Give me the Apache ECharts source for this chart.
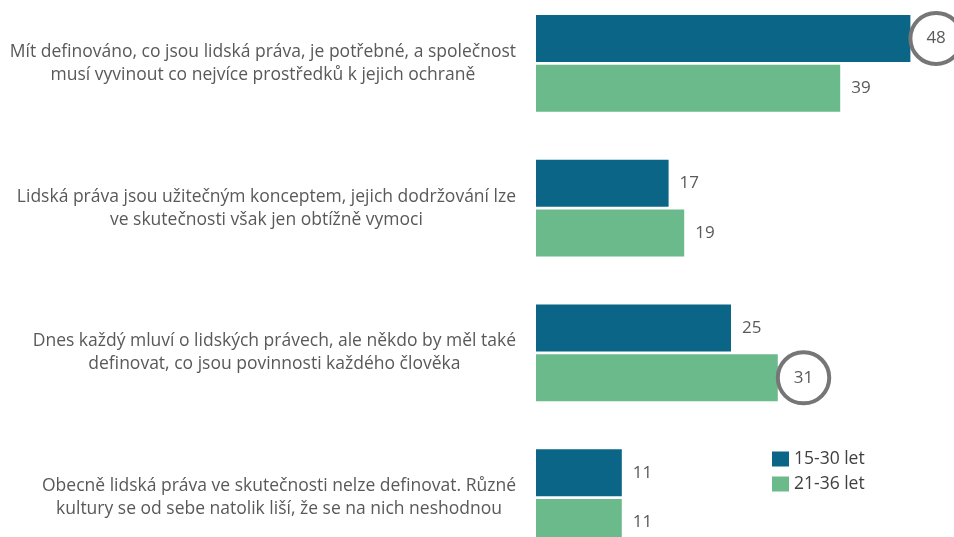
<!DOCTYPE html>
<html>
<head>
<meta charset="utf-8">
<script src="https://cdn.jsdelivr.net/npm/echarts@6/dist/echarts.min.js"></script>
<style>
  html, body { margin: 0; padding: 0; background: #fff; }
  #chart { width: 954px; height: 537px; }
</style>
</head>
<body>
<div id="chart"></div>
<script>
const categories = [
  'Mít definováno, co jsou lidská práva, je potřebné, a společnost\nmusí vyvinout co nejvíce prostředků k jejich ochraně',
  'Lidská práva jsou užitečným konceptem, jejich dodržování lze\nve skutečnosti však jen obtížně vymoci',
  'Dnes každý mluví o lidských právech, ale někdo by měl také\ndefinovat, co jsou povinnosti každého člověka',
  'Obecně lidská práva ve skutečnosti nelze definovat. Různé\nkultury se od sebe natolik liší, že se na nich neshodnou'
];
const seriesNames = ['15-30 let', '21-36 let'];
const young = [48, 17, 25, 11];
const older = [39, 19, 31, 11];
// which value gets the circle highlight
const circledYoung = [true, false, false, false];
const circledOlder = [false, false, true, false];

const FONT = '"Open Sans", sans-serif';
const GREY = '#595959';
const CAT_SIZE = 17.5;

// text blocks: right edge of the widest line sits at x=516, lines centred in the block
const measure = document.createElement('canvas').getContext('2d');
measure.font = CAT_SIZE + 'px ' + FONT;
const ANCHOR = 250;
const catData = categories.map(c => {
  const w = Math.max(...c.split('\n').map(l => measure.measureText(l).width));
  const centre = 516 - w / 2;
  return {
    value: c,
    textStyle: { align: 'center', padding: [0, 0, 0, 2 * (centre - ANCHOR)] }
  };
});

const circleLabel = {
  position: 'right',
  distance: 0,
  lineHeight: 51,
  padding: [0, 16],
  borderRadius: 27,
  borderColor: '#767676',
  borderWidth: 2,
  backgroundColor: 'transparent'
};

const toData = (vals, circled) => vals.map((v, i) =>
  circled[i] ? { value: v, label: circleLabel } : v);

const valueLabel = {
  show: true,
  position: 'right',
  distance: 11,
  fontFamily: FONT,
  fontSize: 17,
  color: GREY
};

const chart = echarts.init(document.getElementById('chart'));

chart.setOption({
  animation: false,
  grid: { left: 536, top: -9, height: 579, width: 390, outerBoundsMode: 'none' },
  xAxis: {
    type: 'value',
    min: 0,
    max: 50,
    show: false
  },
  yAxis: {
    type: 'category',
    data: catData,
    inverse: true,
    axisLine: { show: false },
    axisTick: { show: false },
    axisLabel: {
      align: 'center',
      margin: 536 - ANCHOR,
      fontFamily: FONT,
      fontSize: CAT_SIZE,
      lineHeight: 23,
      color: GREY
    }
  },
  legend: {
    orient: 'vertical',
    left: 772,
    top: 450,
    padding: 0,
    itemWidth: 17,
    itemHeight: 15,
    itemGap: 7,
    icon: 'rect',
    textStyle: { fontFamily: FONT, fontSize: 17.5, color: '#404040' },
    data: seriesNames
  },
  series: [
    {
      name: seriesNames[0],
      type: 'bar',
      data: toData(young, circledYoung),
      barWidth: 47,
      barGap: '6%',
      itemStyle: { color: '#0b6586' },
      label: valueLabel
    },
    {
      name: seriesNames[1],
      type: 'bar',
      data: toData(older, circledOlder),
      barWidth: 47,
      barGap: '6%',
      itemStyle: { color: '#6bba8b' },
      label: valueLabel
    }
  ]
});
</script>
</body>
</html>
